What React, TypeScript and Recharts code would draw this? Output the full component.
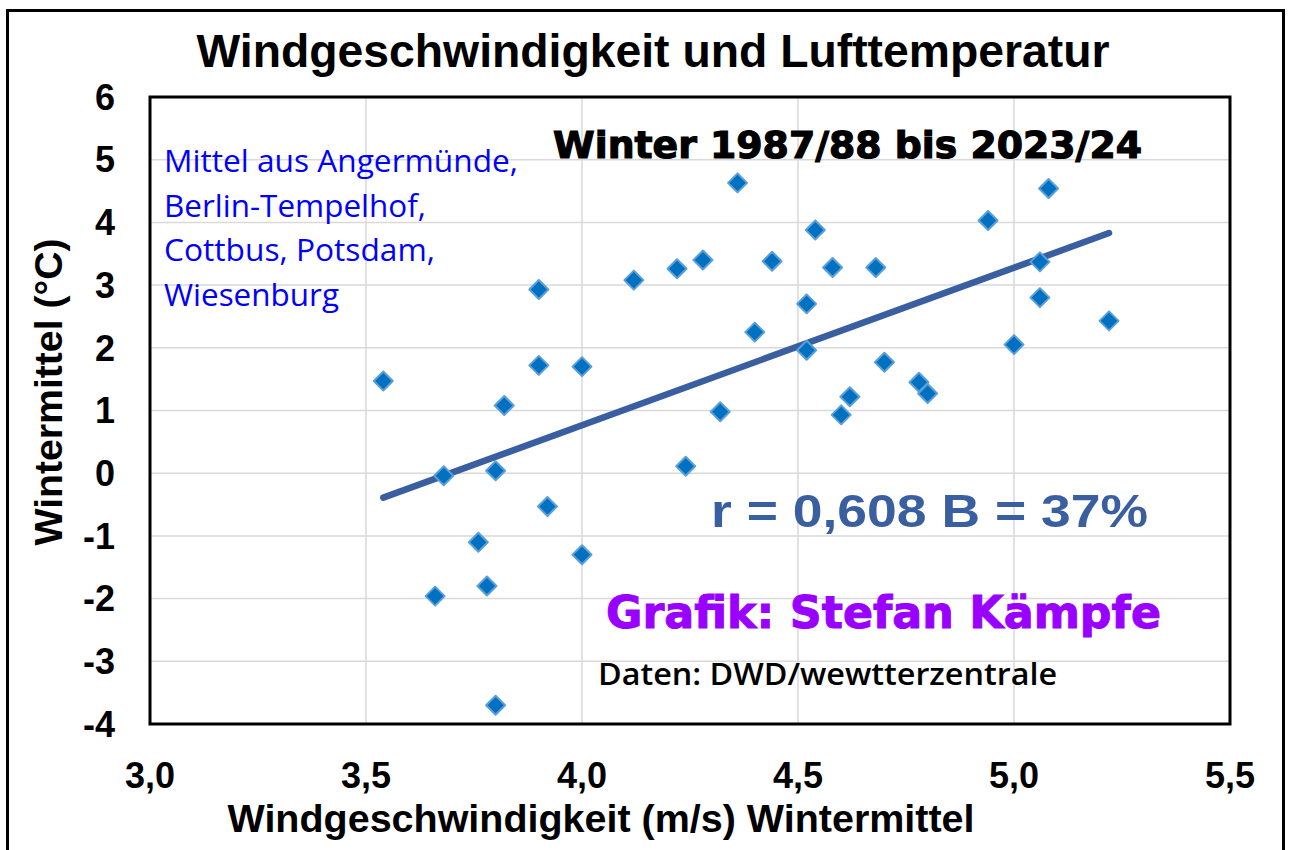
import React from "react";
import {
  ScatterChart,
  Scatter,
  XAxis,
  YAxis,
  CartesianGrid,
  ReferenceLine,
  ReferenceArea,
} from "recharts";

// Wind speed (m/s, winter mean) and air temperature (°C, winter mean), winters 1987/88–2023/24
const windSpeed = [
  3.54, 3.66, 3.68, 3.76, 3.78, 3.8, 3.8, 3.82, 3.9, 3.9, 3.92, 4.0, 4.0,
  4.12, 4.22, 4.24, 4.28, 4.32, 4.36, 4.4, 4.44, 4.52, 4.52, 4.54, 4.58,
  4.6, 4.62, 4.68, 4.7, 4.78, 4.8, 4.94, 5.0, 5.06, 5.06, 5.08, 5.22,
];
const temperature = [
  1.47, -1.96, -0.04, -1.1, -1.8, 0.04, -3.7, 1.08, 2.93, 1.72, -0.53, 1.7,
  -1.3, 3.08, 3.26, 0.11, 3.4, 0.98, 4.63, 2.25, 3.38, 2.7, 1.96, 3.88, 3.28,
  0.93, 1.22, 3.28, 1.77, 1.45, 1.27, 4.03, 2.05, 3.37, 2.8, 4.54, 2.43,
];
const trendX = [3.54, 5.22];
const trendY = [-0.39, 3.83];
const xTicks = [3.0, 3.5, 4.0, 4.5, 5.0, 5.5];
const yTicks = [-4, -3, -2, -1, 0, 1, 2, 3, 4, 5, 6];
const stationLines = [
  "Mittel aus Angermünde,",
  "Berlin-Tempelhof,",
  "Cottbus, Potsdam,",
  "Wiesenburg",
];
const stationWidths = [354, 262, 271, 175];

const points = windSpeed.map((x, i) => ({ x, y: temperature[i] }));

const Diamond = (props: any) => {
  const { cx, cy } = props;
  if (cx == null || cy == null) return null;
  const r = 9.5;
  return (
    <polygon
      points={`${cx},${cy - r} ${cx + r},${cy} ${cx},${cy + r} ${cx - r},${cy}`}
      fill="#0070c0"
      stroke="#5a9fd9"
      strokeWidth={2}
      strokeLinejoin="round"
    />
  );
};

const arial = "'Liberation Sans', Arial, sans-serif";
const heavy = "'DejaVu Sans', 'Liberation Sans', sans-serif";
const calibri = "'Open Sans', 'Liberation Sans', sans-serif";

export default function App() {
  return (
    <div style={{ position: "absolute", left: 0, top: 0, width: 1289, height: 850, background: "#fff", overflow: "hidden" }}>
      <ScatterChart
        width={1289}
        height={850}
        margin={{ top: 97, right: 59, bottom: 0, left: 0 }}
      >
        <CartesianGrid stroke="#d9d9d9" strokeWidth={1.5} />
        <XAxis
          type="number"
          dataKey="x"
          domain={[3, 5.5]}
          ticks={xTicks}
          height={126}
          tickSize={0}
          tickMargin={38}
          axisLine={false}
          tickLine={false}
          tickFormatter={(v: number) => v.toFixed(1).replace(".", ",")}
          tick={{ fill: "#000", fontSize: 36, fontWeight: "bold", fontFamily: arial }}
          allowDataOverflow
        />
        <YAxis
          type="number"
          dataKey="y"
          domain={[-4, 6]}
          ticks={yTicks}
          width={150}
          tickSize={0}
          tickMargin={35}
          axisLine={false}
          tickLine={false}
          tick={{ fill: "#000", fontSize: 36, fontWeight: "bold", fontFamily: arial }}
          allowDataOverflow
        />
        <ReferenceArea
          x1={3}
          x2={5.5}
          y1={-4}
          y2={6}
          fill="none"
          fillOpacity={0}
          stroke="#000"
          strokeWidth={3}
          ifOverflow="visible"
        />
        <ReferenceLine
          segment={[
            { x: trendX[0], y: trendY[0] },
            { x: trendX[1], y: trendY[1] },
          ]}
          stroke="#3a5fa0"
          strokeWidth={6.5}
          strokeLinecap="round"
          ifOverflow="visible"
        />
        <Scatter data={points} shape={Diamond} isAnimationActive={false} />
      </ScatterChart>
      <svg
        width={1289}
        height={850}
        style={{ position: "absolute", left: 0, top: 0, pointerEvents: "none" }}
      >
        <rect x={7.5} y={10.5} width={1276} height={900} fill="none" stroke="#000" strokeWidth={3} />
        <text x={653} y={67} textAnchor="middle" fontFamily={arial} fontWeight="bold" fontSize={46} textLength={913} lengthAdjust="spacingAndGlyphs" fill="#000">
          Windgeschwindigkeit und Lufttemperatur
        </text>
        <text x={553} y={158} fontFamily={heavy} fontWeight="bold" fontSize={38} textLength={589} lengthAdjust="spacingAndGlyphs" fill="#000" stroke="#000" strokeWidth={1.2}>
          Winter 1987/88 bis 2023/24
        </text>
        {stationLines.map((s, i) => (
          <text key={s} x={164} y={172 + i * 44.5} fontFamily={calibri} fontSize={31.5} textLength={stationWidths[i]} lengthAdjust="spacingAndGlyphs" fill="#0000ff">
            {s}
          </text>
        ))}
        <text x={711} y={527} fontFamily={arial} fontWeight="bold" fontSize={46} textLength={437} lengthAdjust="spacingAndGlyphs" fill="#3a5fa0">
          r = 0,608 B = 37%
        </text>
        <text x={606} y={628} fontFamily={heavy} fontWeight="bold" fontSize={44} textLength={555} lengthAdjust="spacingAndGlyphs" fill="#9900ff" stroke="#9900ff" strokeWidth={1}>
          Grafik: Stefan Kämpfe
        </text>
        <text x={598} y={685} fontFamily={calibri} fontWeight={600} fontSize={31} textLength={459} lengthAdjust="spacingAndGlyphs" fill="#000">
          Daten: DWD/wewtterzentrale
        </text>
        <text x={601} y={832} textAnchor="middle" fontFamily={arial} fontWeight="bold" fontSize={39} textLength={747} lengthAdjust="spacingAndGlyphs" fill="#000">
          Windgeschwindigkeit (m/s) Wintermittel
        </text>
        <text x={62} y={392} textAnchor="middle" transform="rotate(-90 62 392)" fontFamily={arial} fontWeight="bold" fontSize={39} textLength={307} lengthAdjust="spacingAndGlyphs" fill="#000">
          Wintermittel (°C)
        </text>
      </svg>
    </div>
  );
}
